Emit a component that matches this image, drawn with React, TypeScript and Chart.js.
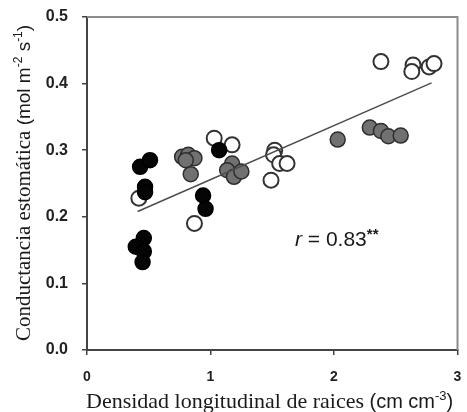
import React, { useEffect, useRef } from 'react';
import { Chart, registerables } from 'chart.js';

Chart.register(...registerables);

// ---- data ----
const blackX = [0.43, 0.51, 0.47, 0.47, 0.46, 0.395, 0.46, 0.45, 1.07, 0.94, 0.96];
const blackY = [0.275, 0.285, 0.245, 0.237, 0.168, 0.155, 0.148, 0.132, 0.30, 0.232, 0.212];

const grayX = [0.77, 0.82, 0.87, 0.80, 0.84, 1.175, 1.135, 1.19, 1.25, 2.03, 2.29, 2.38, 2.44, 2.54];
const grayY = [0.290, 0.293, 0.288, 0.285, 0.264, 0.28, 0.27, 0.26, 0.268, 0.316, 0.334, 0.329, 0.321, 0.322];

const openX = [0.42, 0.87, 1.03, 1.175, 1.52, 1.51, 1.56, 1.62, 1.49, 2.38, 2.64, 2.63, 2.77, 2.81];
const openY = [0.228, 0.19, 0.318, 0.308, 0.30, 0.293, 0.28, 0.28, 0.255, 0.433, 0.428, 0.418, 0.425, 0.43];

const fitX = [0.41, 2.79];
const fitY = [0.208, 0.401];

const xTickValues = [0, 1, 2, 3];
const yTickValues = [0, 0.1, 0.2, 0.3, 0.4, 0.5];

const xTitleMain = 'Densidad longitudinal de raices';
const xTitleUnit = ['(cm cm', '-3', ')'];
const yTitleMain = 'Conductancia estomática';
const yTitleUnit = ['(mol m', '-2', ' s', '-1', ')'];
const rLabel = ['r', ' = 0.83', '**'];

const toPoints = (xs: number[], ys: number[]) => xs.map((x, i) => ({ x, y: ys[i] }));

type Run = { text: string; font: string; dy: number };

function drawRuns(ctx: CanvasRenderingContext2D, runs: Run[], x: number, y: number, color: string) {
  ctx.fillStyle = color;
  ctx.textBaseline = 'alphabetic';
  ctx.textAlign = 'left';
  let cx = x;
  for (const r of runs) {
    ctx.font = r.font;
    ctx.fillText(r.text, cx, y + r.dy);
    cx += ctx.measureText(r.text).width;
  }
  return cx - x;
}

function runsWidth(ctx: CanvasRenderingContext2D, runs: Run[]) {
  let w = 0;
  for (const r of runs) {
    ctx.font = r.font;
    w += ctx.measureText(r.text).width;
  }
  return w;
}

const decorPlugin = {
  id: 'decor',
  afterDraw(chart: any) {
    const ctx: CanvasRenderingContext2D = chart.ctx;
    const { left, right, top, bottom } = chart.chartArea;
    ctx.save();
    // top & right frame
    ctx.strokeStyle = '#8c8c8c';
    ctx.lineWidth = 2;
    ctx.beginPath();
    ctx.moveTo(left, top);
    ctx.lineTo(right, top);
    ctx.lineTo(right, bottom);
    ctx.stroke();

    const serifX = '22px "Liberation Serif", "Times New Roman", serif';
    const sansX = '20px "Liberation Sans", Arial, sans-serif';
    const supX = '13px "Liberation Sans", Arial, sans-serif';
    // x title
    const xRuns: Run[] = [
      { text: xTitleMain + ' ', font: serifX, dy: 0 },
      { text: xTitleUnit[0], font: sansX, dy: 0 },
      { text: xTitleUnit[1], font: supX, dy: -8 },
      { text: xTitleUnit[2], font: sansX, dy: 0 },
    ];
    drawRuns(ctx, xRuns, 86, 408, '#1a1a1a');

    // y title
    const serifY = '21px "Liberation Serif", "Times New Roman", serif';
    const sansY = '19px "Liberation Sans", Arial, sans-serif';
    const supY = '12px "Liberation Sans", Arial, sans-serif';
    const yRuns: Run[] = [
      { text: yTitleMain + ' ', font: serifY, dy: 0 },
      { text: yTitleUnit[0], font: sansY, dy: 0 },
      { text: yTitleUnit[1], font: supY, dy: -8 },
      { text: yTitleUnit[2], font: sansY, dy: 0 },
      { text: yTitleUnit[3], font: supY, dy: -8 },
      { text: yTitleUnit[4], font: sansY, dy: 0 },
    ];
    const yw = runsWidth(ctx, yRuns);
    ctx.save();
    ctx.translate(30, 183);
    ctx.rotate(-Math.PI / 2);
    drawRuns(ctx, yRuns, -yw / 2, 0, '#1a1a1a');
    ctx.restore();

    // r label
    const rRuns: Run[] = [
      { text: rLabel[0], font: 'italic 21px "Liberation Sans", Arial, sans-serif', dy: 0 },
      { text: rLabel[1], font: '21px "Liberation Sans", Arial, sans-serif', dy: 0 },
      { text: rLabel[2], font: 'bold 15px "Liberation Sans", Arial, sans-serif', dy: -7 },
    ];
    drawRuns(ctx, rRuns, 295, 246, '#1a1a1a');
    ctx.restore();
  },
};

export default function App() {
  const ref = useRef<HTMLCanvasElement | null>(null);

  useEffect(() => {
    if (!ref.current) return;
    const chart = new Chart(ref.current, {
      type: 'scatter',
      data: {
        datasets: [
          {
            type: 'line',
            data: toPoints(fitX, fitY),
            borderColor: '#4d4d4d',
            borderWidth: 1.5,
            pointRadius: 0,
            showLine: true,
            fill: false,
          } as any,
          {
            data: toPoints(blackX, blackY),
            backgroundColor: '#050505',
            borderColor: '#000000',
            borderWidth: 1.5,
            pointRadius: 7.5,
          },
          {
            data: toPoints(grayX, grayY),
            backgroundColor: '#717171',
            borderColor: '#2e2e2e',
            borderWidth: 1.5,
            pointRadius: 7.5,
          },
          {
            data: toPoints(openX, openY),
            backgroundColor: '#ffffff',
            borderColor: '#333333',
            borderWidth: 2,
            pointRadius: 7.5,
          },
        ],
      },
      options: {
        responsive: false,
        animation: false,
        devicePixelRatio: 1,
        layout: { padding: { top: 17, right: 2, left: 0, bottom: 0 } },
        plugins: { legend: { display: false }, tooltip: { enabled: false } },
        scales: {
          x: {
            type: 'linear',
            min: 0,
            max: 3,
            afterBuildTicks: (s: any) => {
              s.ticks = xTickValues.map((v) => ({ value: v }));
            },
            ticks: {
              font: { family: '"Liberation Sans", Arial, sans-serif', size: 14, weight: 'bold' },
              color: '#222',
              padding: 14,
              callback: (v: any) => String(v),
            },
            grid: { display: true, drawOnChartArea: false, drawTicks: true, tickLength: 5, color: '#444', lineWidth: 1.5 },
            border: { display: true, color: '#444', width: 2 },
            afterFit: (s: any) => {
              s.height = 62;
              s.paddingLeft = 0;
              s.paddingRight = 0;
            },
          },
          y: {
            type: 'linear',
            min: 0,
            max: 0.5,
            afterBuildTicks: (s: any) => {
              s.ticks = yTickValues.map((v) => ({ value: v }));
            },
            ticks: {
              font: { family: '"Liberation Sans", Arial, sans-serif', size: 16, weight: 'bold' },
              color: '#222',
              padding: 14,
              callback: (v: any) => Number(v).toFixed(1),
            },
            grid: { display: true, drawOnChartArea: false, drawTicks: true, tickLength: 5, color: '#444', lineWidth: 1.5 },
            border: { display: true, color: '#444', width: 2 },
            afterFit: (s: any) => {
              s.width = 87;
              s.paddingTop = 0;
              s.paddingBottom = 0;
            },
          },
        },
      },
      plugins: [decorPlugin],
    });
    return () => chart.destroy();
  }, []);

  return (
    <div style={{ position: 'absolute', left: 0, top: 0, width: 467, height: 412, background: '#fff' }}>
      <canvas ref={ref} width={467} height={412} style={{ display: 'block' }} />
    </div>
  );
}
